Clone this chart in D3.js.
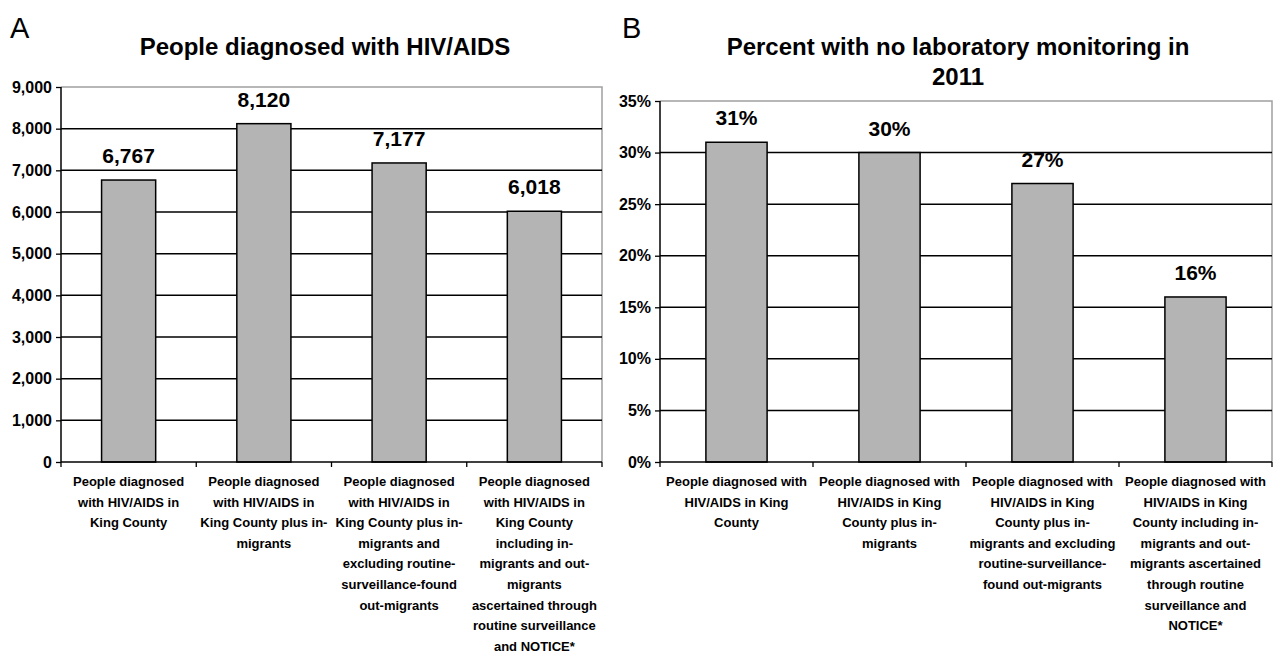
<!DOCTYPE html>
<html>
<head>
<meta charset="utf-8">
<script src="https://cdn.jsdelivr.net/npm/d3@7/dist/d3.min.js"></script>
<style>
  html, body { margin: 0; padding: 0; background: #fff; }
  svg text { font-family: "Liberation Sans", Arial, Helvetica, sans-serif; fill: #000; }
</style>
</head>
<body>
<svg id="chart" width="1280" height="656"></svg>
<script>
// Panel A: people diagnosed with HIV/AIDS
const diagnosedCategories = [
  ["People diagnosed", "with HIV/AIDS in", "King County"],
  ["People diagnosed", "with HIV/AIDS in", "King County plus in-", "migrants"],
  ["People diagnosed", "with HIV/AIDS in", "King County plus in-", "migrants and", "excluding routine-", "surveillance-found", "out-migrants"],
  ["People diagnosed", "with HIV/AIDS in", "King County", "including in-", "migrants and out-", "migrants", "ascertained through", "routine surveillance", "and NOTICE*"]
];
const diagnosedValues = [6767, 8120, 7177, 6018];
const diagnosedTicks = [0, 1000, 2000, 3000, 4000, 5000, 6000, 7000, 8000, 9000];

// Panel B: percent with no laboratory monitoring in 2011
const monitoringCategories = [
  ["People diagnosed with", "HIV/AIDS in King", "County"],
  ["People diagnosed with", "HIV/AIDS in King", "County plus in-", "migrants"],
  ["People diagnosed with", "HIV/AIDS in King", "County plus in-", "migrants and excluding", "routine-surveillance-", "found out-migrants"],
  ["People diagnosed with", "HIV/AIDS in King", "County including in-", "migrants and out-", "migrants ascertained", "through routine", "surveillance and", "NOTICE*"]
];
const monitoringValues = [31, 30, 27, 16];
const monitoringTicks = [0, 5, 10, 15, 20, 25, 30, 35];

const svg = d3.select("#chart");

function panel(opts) {
  const { letter, letterX, title, titleX, titleY, left, right, top, bottom,
          cats, values, ticks, yMax, tickFmt, valueFmt, labelFont } = opts;
  const g = svg.append("g");

  g.append("text").attr("x", letterX).attr("y", 38)
    .attr("font-size", 29).text(letter);

  const t = g.append("text").attr("text-anchor", "middle")
    .attr("font-size", 24).attr("font-weight", "bold");
  title.forEach((line, i) => {
    t.append("tspan").attr("x", titleX).attr("y", titleY + i * 30).text(line);
  });

  const idx = d3.range(values.length);
  const x = d3.scaleBand().domain(idx).range([left, right])
    .paddingInner(0.6).paddingOuter(0.3);
  const y = d3.scaleLinear().domain([0, yMax]).range([bottom, top]);

  // grey frame on top and right
  g.append("path")
    .attr("d", `M${left},${top}H${right}V${bottom}`)
    .attr("fill", "none").attr("stroke", "#a0a0a0").attr("stroke-width", 1.5);

  // horizontal gridlines
  g.selectAll(".grid").data(ticks.filter(v => v > 0 && v < yMax)).join("line")
    .attr("x1", left).attr("x2", right)
    .attr("y1", d => y(d)).attr("y2", d => y(d))
    .attr("stroke", "#000").attr("stroke-width", 1.5);

  // bars
  g.selectAll(".bar").data(values).join("rect")
    .attr("x", (d, i) => x(i)).attr("width", x.bandwidth())
    .attr("y", d => y(d)).attr("height", d => bottom - y(d))
    .attr("fill", "#b4b4b4").attr("stroke", "#000").attr("stroke-width", 1.5);

  // value labels
  g.selectAll(".val").data(values).join("text")
    .attr("x", (d, i) => x(i) + x.bandwidth() / 2)
    .attr("y", d => y(d) - 17)
    .attr("text-anchor", "middle").attr("font-size", 21).attr("font-weight", "bold")
    .text(d => valueFmt(d));

  // y axis
  const yAxis = g.append("g").attr("transform", `translate(${left},0)`)
    .call(d3.axisLeft(y).tickValues(ticks).tickFormat(tickFmt).tickSize(5).tickPadding(4));
  yAxis.select(".domain").attr("stroke", "#000").attr("stroke-width", 1.5)
    .attr("d", `M0,${top}V${bottom}`);
  yAxis.selectAll(".tick line").attr("stroke", "#000").attr("stroke-width", 1.3);
  yAxis.selectAll(".tick text").attr("font-size", 16).attr("font-weight", "bold")
    .attr("font-family", "Liberation Sans, Arial, sans-serif").attr("fill", "#000");

  // x axis baseline with ticks between categories
  const step = x.step();
  const bounds = d3.range(values.length + 1).map(i => left + i * step);
  g.append("line").attr("x1", left).attr("x2", right)
    .attr("y1", bottom).attr("y2", bottom)
    .attr("stroke", "#000").attr("stroke-width", 1.5);
  g.selectAll(".xt").data(bounds).join("line")
    .attr("x1", d => d).attr("x2", d => d)
    .attr("y1", bottom).attr("y2", bottom + 5)
    .attr("stroke", "#000").attr("stroke-width", 1.3);

  // category labels
  cats.forEach((lines, i) => {
    const cx = x(i) + x.bandwidth() / 2;
    const lt = g.append("text").attr("text-anchor", "middle")
      .attr("font-size", labelFont).attr("font-weight", "bold").attr("fill", "#111");
    lines.forEach((line, j) => {
      lt.append("tspan").attr("x", cx).attr("y", bottom + 24 + j * 20.6).text(line);
    });
  });
}

panel({
  letter: "A", letterX: 10, title: ["People diagnosed with HIV/AIDS"], titleX: 325, titleY: 55,
  left: 61, right: 602, top: 87, bottom: 462,
  cats: diagnosedCategories, values: diagnosedValues, ticks: diagnosedTicks, yMax: 9000,
  tickFmt: d3.format(","), valueFmt: d3.format(","), labelFont: 13
});

panel({
  letter: "B", letterX: 622, title: ["Percent with no laboratory monitoring in", "2011"], titleX: 958, titleY: 55,
  left: 660, right: 1272, top: 101, bottom: 462,
  cats: monitoringCategories, values: monitoringValues, ticks: monitoringTicks, yMax: 35,
  tickFmt: d => d + "%", valueFmt: d => d + "%", labelFont: 13
});
</script>
</body>
</html>
